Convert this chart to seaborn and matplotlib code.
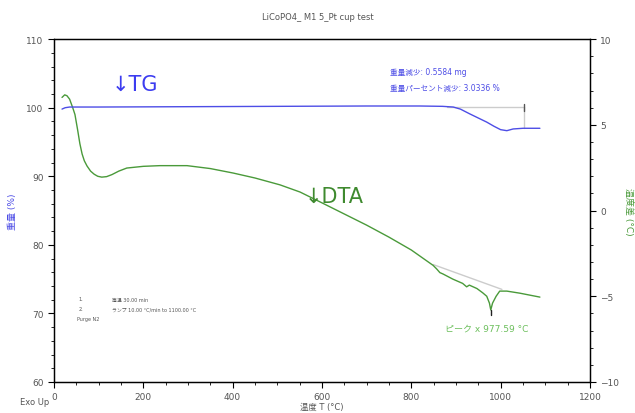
import numpy as np
import pandas as pd
import seaborn as sns
import matplotlib.pyplot as plt
from matplotlib.ticker import MultipleLocator

# TG curve (weight %)
tg_temp = [18, 25, 35, 100, 300, 500, 700, 819, 870, 894, 910, 931, 950, 969, 985, 1000, 1014, 1028, 1050, 1088]
tg_weight = [99.8, 100.0, 100.1, 100.1, 100.15, 100.2, 100.25, 100.25, 100.2, 100.1, 99.8, 99.1, 98.5, 97.9, 97.3,
             96.8, 96.65, 96.9, 97.0, 97.0]

# DTA curve (temperature difference, °C)
dta_temp = [18, 24, 29, 35, 42, 47, 53, 58, 63, 68, 74, 82, 90, 98, 107, 118, 130, 145, 163, 200, 237, 298, 350,
            401, 450, 506, 551, 600, 650, 700, 750, 800, 849, 857, 864, 871, 893, 915, 924, 930, 947, 960, 969,
            975, 978, 982, 990, 998, 1014, 1043, 1088]
dta_value = [6.6, 6.75, 6.7, 6.5, 6.0, 5.6, 4.7, 3.9, 3.3, 2.9, 2.6, 2.3, 2.12, 2.0, 1.95, 1.98, 2.1, 2.3, 2.48,
             2.58, 2.62, 2.62, 2.45, 2.19, 1.9, 1.5, 1.08, 0.45, -0.2, -0.85, -1.55, -2.3, -3.2, -3.41, -3.62,
             -3.7, -4.0, -4.25, -4.45, -4.35, -4.55, -4.8, -5.0, -5.4, -5.8, -5.4, -5.0, -4.7, -4.7, -4.82, -5.05]

# peak baseline and step marker
base_temp = [849, 1003]
base_value = [-3.15, -4.6]
step_temp = 1052
step_top = 100.1
step_bottom = 97.0
peak_temp = 977.59

tg_df = pd.DataFrame({'temp': tg_temp, 'weight': tg_weight})
dta_df = pd.DataFrame({'temp': dta_temp, 'dta': dta_value})

sns.set_style('white')
plt.rcParams['font.family'] = ['DejaVu Sans', 'Noto Sans CJK JP']

fig = plt.figure(figsize=(6.35, 4.14), dpi=100)
ax = fig.add_axes([0.085, 0.075, 0.844, 0.828])
ax2 = ax.twinx()

blue = '#4d4de6'
green = '#4a9a3a'
grey_txt = '#555555'

sns.lineplot(x='temp', y='weight', data=tg_df, ax=ax, color=blue, linewidth=1)
ax.plot([880, step_temp], [step_top, step_top], color='#cccccc', linewidth=1, zorder=1)
ax.plot([step_temp, step_temp], [step_top, step_bottom], color='#cccccc', linewidth=1, zorder=1)
ax.plot([step_temp, step_temp], [step_top + 0.4, step_top - 0.6], color='#555555', linewidth=1)

sns.lineplot(x='temp', y='dta', data=dta_df, ax=ax2, color=green, linewidth=1)
ax2.plot(base_temp, base_value, color='#cccccc', linewidth=1, zorder=1)
ax2.plot([peak_temp, peak_temp], [-5.8, -6.1], color='#222222', linewidth=1)

ax.set_xlim(0, 1200)
ax.set_ylim(60, 110)
ax2.set_ylim(-10, 10)
ax.xaxis.set_major_locator(MultipleLocator(200))
ax.xaxis.set_minor_locator(MultipleLocator(50))
ax.yaxis.set_major_locator(MultipleLocator(10))
ax.yaxis.set_minor_locator(MultipleLocator(2))
ax2.yaxis.set_major_locator(MultipleLocator(5))
ax2.yaxis.set_minor_locator(MultipleLocator(1))

for a in (ax, ax2):
    for s in a.spines.values():
        s.set_color('black')
        s.set_linewidth(0.9)
    a.tick_params(which='both', direction='out', colors='black', labelcolor=grey_txt, labelsize=6.5)
    a.tick_params(which='major', length=4, width=0.8)
    a.tick_params(which='minor', length=2, width=0.6)
ax.tick_params(axis='x', which='both', bottom=True, top=False)
ax.tick_params(axis='y', which='both', left=True, right=False)
ax2.tick_params(axis='y', which='both', right=True, left=False)

ax.set_xlabel('温度 T (°C)', fontsize=6, color=grey_txt, va='center')
ax.xaxis.set_label_coords(0.5, -0.072)
ax.set_ylabel('重量 (%)', fontsize=6.5, color=blue, labelpad=7)
ax2.set_ylabel('温度差 (°C)', fontsize=6.5, color=green, rotation=270, labelpad=10)

fig.text(0.5, 0.958, 'LiCoPO4_ M1 5_Pt cup test', ha='center', va='center', fontsize=6, color=grey_txt)
fig.text(0.032, 0.027, 'Exo Up', ha='left', va='center', fontsize=6, color=grey_txt)

ax.text(130, 103.4, '↓TG', fontsize=15, color='#3c3cf0', va='center', ha='left')
ax.text(562, 87.1, '↓DTA', fontsize=15, color='#3f8a2f', va='center', ha='left')

ax.text(752, 105.3, '重量減少: 0.5584 mg', fontsize=5.5, color=blue, va='center')
ax.text(752, 103.0, '重量パーセント減少: 3.0336 %', fontsize=5.5, color=blue, va='center')

ax.text(55, 72.1, '1.', fontsize=3.5, color=grey_txt, va='center')
ax.text(130, 72.1, '等温 30.00 min', fontsize=3.5, color=grey_txt, va='center')
ax.text(55, 70.7, '2.', fontsize=3.5, color=grey_txt, va='center')
ax.text(130, 70.7, 'ランプ 10.00 °C/min to 1100.00 °C', fontsize=3.5, color=grey_txt, va='center')
ax.text(52, 69.3, 'Purge N2', fontsize=3.5, color=grey_txt, va='center')

ax2.text(875, -6.85, 'ピーク x 977.59 °C', fontsize=6.5, color='#6cbf5c', va='center')

ax.set_zorder(ax2.get_zorder() + 1)
ax.patch.set_visible(False)

fig.savefig('out.png', dpi=100)
